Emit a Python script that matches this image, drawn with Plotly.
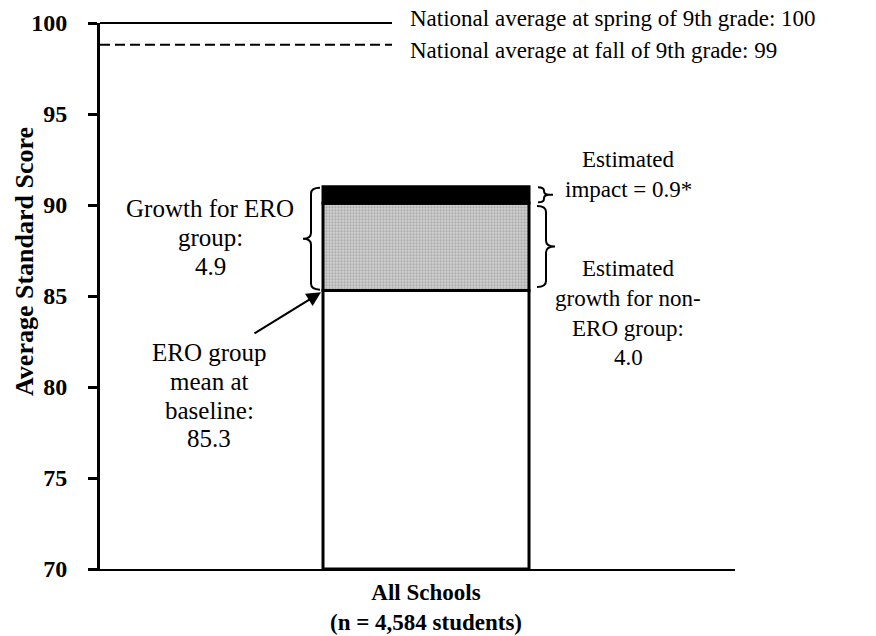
import plotly.graph_objects as go

# ---- data ----
category = ["All Schools<br>(n = 4,584 students)"]
axis_min = 70
baseline = [85.3]          # ERO group mean at baseline
nonero_growth_seg = [4.8]  # grey segment as drawn
impact_seg = [0.9]         # black segment
national_spring = 100
national_fall = 98.8
y_ticks = [70, 75, 80, 85, 90, 95, 100]

FONT = "Liberation Serif"
W, H = 876, 636
L, R, T, B = 100, 141, 23, 67
PW = W - L - R
PH = H - T - B
YR = (70, 100)


def px_to_y(py):
    return YR[0] + (H - B - py) / PH * (YR[1] - YR[0])


def px_to_yp(py):
    return (H - B - py) / PH


def val_to_yp(v):
    return (v - YR[0]) / (YR[1] - YR[0])


def px_to_xp(px):
    return (px - L) / PW


xpos = [0]
bw = 0.3244
xr = [-0.5134, 0.4866]

fig = go.Figure()
fig.add_trace(go.Bar(x=xpos, y=[b - axis_min for b in baseline], base=[axis_min],
                     width=bw, marker=dict(color="white", line=dict(color="black", width=3)),
                     showlegend=False, hoverinfo="skip"))
fig.add_trace(go.Bar(x=xpos, y=nonero_growth_seg, base=baseline, width=bw,
                     marker=dict(color="#bdbdbd", line=dict(color="black", width=3),
                                 pattern=dict(shape=".", fgcolor="#858585", bgcolor="#d2d2d2",
                                              size=3, solidity=0.45)),
                     showlegend=False, hoverinfo="skip"))
top_grey = [b + g for b, g in zip(baseline, nonero_growth_seg)]
fig.add_trace(go.Bar(x=xpos, y=impact_seg, base=top_grey, width=bw,
                     marker=dict(color="black", line=dict(color="black", width=3)),
                     showlegend=False, hoverinfo="skip"))
top_all = [t + i for t, i in zip(top_grey, impact_seg)]

shapes = []
# national average lines (paper-referenced so they are not clipped at the top edge)
line_end = px_to_xp(392)
shapes.append(dict(type="line", xref="paper", yref="paper", x0=0, x1=line_end,
                   y0=val_to_yp(national_spring), y1=val_to_yp(national_spring),
                   line=dict(color="black", width=2.2)))
shapes.append(dict(type="line", xref="paper", yref="paper", x0=0, x1=line_end,
                   y0=val_to_yp(national_fall), y1=val_to_yp(national_fall),
                   line=dict(color="black", width=2, dash="10px,5px")))


def brace(xa, xs, xt, ytop, ybot, h=0.33, tail=None):
    # xa arms, xs spine, xt tip in paper coords; y in data
    span = ytop - ybot
    h = min(h, span / 4)
    ym = (ytop + ybot) / 2
    p = (f"M {xa},{ytop} Q {xs},{ytop} {xs},{ytop - h} L {xs},{ym + h} "
         f"Q {xs},{ym} {xt},{ym} Q {xs},{ym} {xs},{ym - h} L {xs},{ybot + h} "
         f"Q {xs},{ybot} {xa},{ybot}")
    if tail is not None:
        p += f" M {xt},{ym} L {tail},{ym}"
    return dict(type="path", xref="paper", yref="y", path=p,
                line=dict(color="black", width=2))


# left brace: growth for ERO group (baseline to top)
shapes.append(brace(px_to_xp(320), px_to_xp(311), px_to_xp(303),
                    top_all[0] - 0.05, baseline[0] + 0.05))
# right big brace: non-ERO growth
shapes.append(brace(px_to_xp(537), px_to_xp(546), px_to_xp(555),
                    top_grey[0] - 0.15, baseline[0] + 0.2))
# small brace: impact
shapes.append(brace(px_to_xp(538), px_to_xp(544), px_to_xp(549),
                    top_all[0] - 0.02, top_grey[0] + 0.05, h=0.2, tail=px_to_xp(553)))

ann = []


def text_block(lines, cx, ys, size):
    for txt, py in zip(lines, ys):
        ann.append(dict(text=txt, xref="paper", yref="y",
                        x=px_to_xp(cx), y=px_to_y(py), xanchor="center", yanchor="middle",
                        showarrow=False, font=dict(family=FONT, size=size, color="black")))


tf = dict(family=FONT, size=23, color="black")
ann.append(dict(text="National average at spring of 9th grade: 100", xref="paper", yref="paper",
                x=px_to_xp(408), y=px_to_yp(18), xanchor="left", yanchor="middle",
                showarrow=False, font=tf))
ann.append(dict(text="National average at fall of 9th grade: 99", xref="paper", yref="paper",
                x=px_to_xp(408), y=px_to_yp(50), xanchor="left", yanchor="middle",
                showarrow=False, font=tf))
text_block(["Growth for ERO", "group:", "4.9"], 210, [208, 237, 266], 25)
text_block(["ERO group", "mean at", "baseline:", "85.3"], 209, [352, 381, 410, 438], 25)
text_block(["Estimated", "impact = 0.9*"], 628, [159, 189], 23)
text_block(["Estimated", "growth for non-", "ERO group:", "4.0"], 628, [268, 298, 328, 357], 23)
# arrow to baseline
ann.append(dict(text="", xref="paper", yref="y", x=px_to_xp(321), y=baseline[0] - 0.1,
                ax=-68, ay=42, showarrow=True, arrowhead=2, arrowsize=1.3,
                arrowwidth=2.2, arrowcolor="black"))
# y-axis title
ann.append(dict(text="<b>Average Standard Score</b>", xref="paper", yref="paper",
                x=px_to_xp(24), y=px_to_yp(262), textangle=-90,
                xanchor="center", yanchor="middle", showarrow=False,
                font=dict(family=FONT, size=26, color="black")))

fig.update_layout(
    width=W, height=H,
    margin=dict(l=L, r=R, t=T, b=B, pad=0, autoexpand=False),
    paper_bgcolor="white", plot_bgcolor="white",
    barmode="overlay", showlegend=False,
    shapes=shapes, annotations=ann,
    font=dict(family=FONT, color="black"),
    xaxis=dict(range=xr, tickmode="array", tickvals=xpos,
               ticktext=["<b>" + c + "</b>" for c in category],
               tickfont=dict(family=FONT, size=23, color="black"),
               showline=True, linecolor="black", linewidth=1.5,
               ticks="", showgrid=False, zeroline=False, fixedrange=True,
               ticklabelstandoff=2, automargin=False),
    yaxis=dict(range=list(YR), tickmode="array", tickvals=y_ticks,
               ticktext=["<b>%d</b>" % v for v in y_ticks],
               tickfont=dict(family=FONT, size=24, color="black"),
               showline=True, linecolor="black", linewidth=3,
               ticks="outside", ticklen=9, tickwidth=3, tickcolor="black",
               ticklabelstandoff=16,
               showgrid=False, zeroline=False, fixedrange=True,
               automargin=False),
)

fig.write_html("out.html", config={"displayModeBar": False},
               post_script="document.body.style.margin='0';document.body.style.padding='0';"
                           "document.documentElement.style.overflow='hidden';")
